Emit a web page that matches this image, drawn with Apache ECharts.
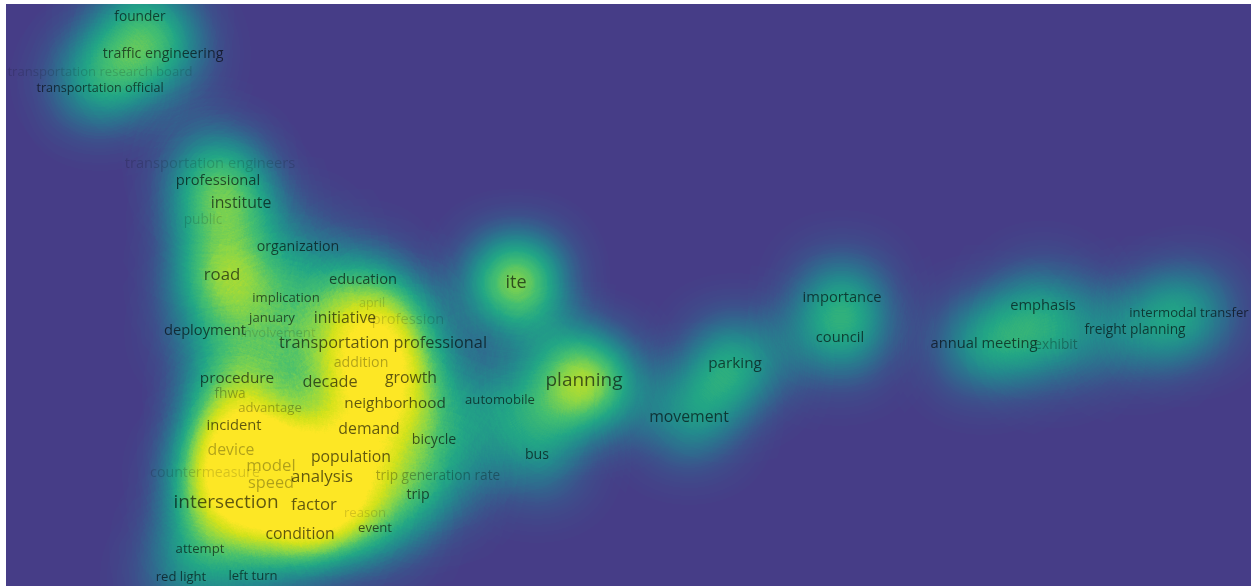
<!DOCTYPE html>
<html>
<head>
<meta charset="utf-8">
<title>Term density map</title>
<script src="https://cdn.jsdelivr.net/npm/echarts@6/dist/echarts.min.js"></script>
<style>
  html, body { margin: 0; padding: 0; background: #ffffff; }
  #chart { width: 1251px; height: 586px; }
</style>
</head>
<body>
<div id="chart"></div>
<script>
// Terms of the co-occurrence map, their map coordinates (y grows upward),
// their label weight (0..1) and their contribution to the density (0..1).
const terms = [
  'founder', 'traffic engineering', 'transportation research board', 'transportation official',
  'transportation engineers', 'professional', 'institute', 'public', 'organization', 'road',
  'education', 'implication', 'april', 'january', 'initiative', 'profession', 'deployment',
  'involvement', 'transportation professional', 'addition', 'procedure', 'decade', 'growth',
  'fhwa', 'advantage', 'neighborhood', 'automobile', 'incident', 'demand', 'bicycle', 'device',
  'bus', 'population', 'model', 'countermeasure', 'analysis', 'trip generation rate', 'speed',
  'intersection', 'factor', 'trip', 'reason', 'event', 'condition', 'attempt', 'red light',
  'left turn', 'ite', 'planning', 'parking', 'movement', 'importance', 'council', 'emphasis',
  'annual meeting', 'exhibit', 'freight planning', 'intermodal transfer'
];
const termX = [
  140, 163, 100, 100, 210, 218, 241, 203, 298, 222,
  363, 286, 372, 272, 345, 408, 205, 278, 383, 361,
  237, 330, 411, 230, 270, 395, 500, 234, 369, 434,
  231, 537, 351, 271, 205, 322, 438, 271, 226, 314,
  418, 365, 375, 300, 200, 181, 253, 516, 584, 735,
  689, 842, 840, 1043, 984, 1056, 1135, 1189
];
const termY = [
  569, 532, 514, 498, 422, 405, 383, 366, 339, 311,
  306, 288, 283, 268, 268, 266, 255, 253, 243, 223,
  207, 204, 208, 192, 178, 182, 186, 160, 157, 146,
  136, 131, 129, 120, 113, 109, 110, 103, 83, 81,
  91, 73, 58, 52, 37, 9, 10, 303, 205, 222,
  169, 288, 248, 280, 242, 241, 256, 273
];
const termWeight = [
  0.29, 0.36, 0.21, 0.14, 0.43, 0.43, 0.57, 0.29, 0.36, 0.71,
  0.43, 0.21, 0.14, 0.21, 0.57, 0.43, 0.43, 0.21, 0.64, 0.36,
  0.50, 0.64, 0.57, 0.29, 0.21, 0.50, 0.21, 0.43, 0.57, 0.36,
  0.57, 0.36, 0.57, 0.71, 0.36, 0.71, 0.29, 0.64, 1.00, 0.71,
  0.36, 0.21, 0.21, 0.57, 0.21, 0.21, 0.21, 0.86, 1.00, 0.50,
  0.57, 0.43, 0.43, 0.43, 0.43, 0.29, 0.29, 0.21
];
const termDensity = [
  0.40, 0.42, 0.30, 0.30, 0.24, 0.30, 0.32, 0.20, 0.25, 0.70,
  0.25, 0.20, 0.20, 0.20, 0.30, 0.25, 0.25, 0.20, 0.40, 0.40,
  0.30, 0.40, 0.38, 0.22, 0.25, 0.38, 0.40, 0.30, 0.40, 0.25,
  0.45, 0.40, 0.50, 0.55, 0.30, 0.55, 0.25, 0.55, 0.60, 0.55,
  0.25, 0.25, 0.25, 0.45, 0.25, 0.25, 0.25, 0.85, 0.92, 0.55,
  0.45, 0.40, 0.40, 0.35, 0.50, 0.30, 0.35, 0.45
];

// Labels drawn behind others are rendered fainter.
const faintLabels = new Set([
  'transportation research board', 'transportation engineers', 'public', 'april',
  'profession', 'involvement', 'countermeasure', 'reason'
]);
const softLabels = new Set([
  'addition', 'fhwa', 'advantage', 'device', 'model', 'speed', 'exhibit', 'trip generation rate'
]);

const MAP_W = 1251, MAP_H = 582, MAP_X0 = 6;
const BG = '#463d87';
const VIRIDIS = [BG, '#3d4f8b', '#2f6b8e', '#23898d', '#22a685', '#45bf6f', '#8fd744', '#d2e21b', '#fde725'];

// Viridis runs over the lower part of the accumulated density; above that it stays yellow.
const DENSITY_SPAN = 0.36;
const densityColors = VIRIDIS.slice();
const totalStops = Math.round((VIRIDIS.length - 1) / DENSITY_SPAN) + 1;
while (densityColors.length < totalStops) densityColors.push(VIRIDIS[VIRIDIS.length - 1]);

// A plain rectangle acts as the map canvas for the density layer.
echarts.registerMap('field', {
  type: 'FeatureCollection',
  features: [{
    type: 'Feature',
    properties: { name: 'field' },
    geometry: {
      type: 'Polygon',
      coordinates: [[[MAP_X0, 0], [MAP_W, 0], [MAP_W, MAP_H], [MAP_X0, MAP_H], [MAP_X0, 0]]]
    }
  }]
});

const densityData = terms.map((t, i) => [termX[i], termY[i], termDensity[i]]);
const labelData = terms.map((t, i) => {
  let alpha = 0.78;
  if (faintLabels.has(t)) alpha = 0.2;
  else if (softLabels.has(t)) alpha = 0.38;
  return {
    name: t,
    value: [termX[i], termY[i], termWeight[i]],
    label: {
      fontSize: Math.round((11.5 + 7.5 * termWeight[i]) * 10) / 10,
      color: 'rgba(0,0,0,' + alpha + ')'
    }
  };
});

const chart = echarts.init(document.getElementById('chart'), null, { renderer: 'canvas' });
chart.setOption({
  backgroundColor: '#ffffff',
  animation: false,
  geo: {
    map: 'field',
    roam: false,
    aspectScale: 1,
    boundingCoords: [[MAP_X0, MAP_H], [MAP_W, 0]],
    left: 6, top: 4, width: 1245, height: 582,
    silent: true,
    label: { show: false },
    itemStyle: { areaColor: BG, borderWidth: 0, borderColor: 'rgba(0,0,0,0)' },
    emphasis: { disabled: true },
    select: { disabled: true }
  },
  visualMap: {
    show: false,
    type: 'continuous',
    seriesIndex: 0,
    min: 0,
    max: 1,
    inRange: { color: densityColors }
  },
  series: [
    {
      type: 'heatmap',
      coordinateSystem: 'geo',
      data: densityData,
      pointSize: 30,
      blurSize: 70,
      minOpacity: 1,
      maxOpacity: 1,
      silent: true
    },
    {
      type: 'scatter',
      coordinateSystem: 'geo',
      data: labelData,
      symbol: 'circle',
      symbolSize: 1,
      itemStyle: { color: 'rgba(0,0,0,0)' },
      silent: true,
      z: 5,
      label: {
        show: true,
        position: 'inside',
        formatter: '{b}',
        fontFamily: '"Open Sans", "Noto Sans", sans-serif',
        fontWeight: 'normal'
      }
    }
  ]
});
</script>
</body>
</html>
